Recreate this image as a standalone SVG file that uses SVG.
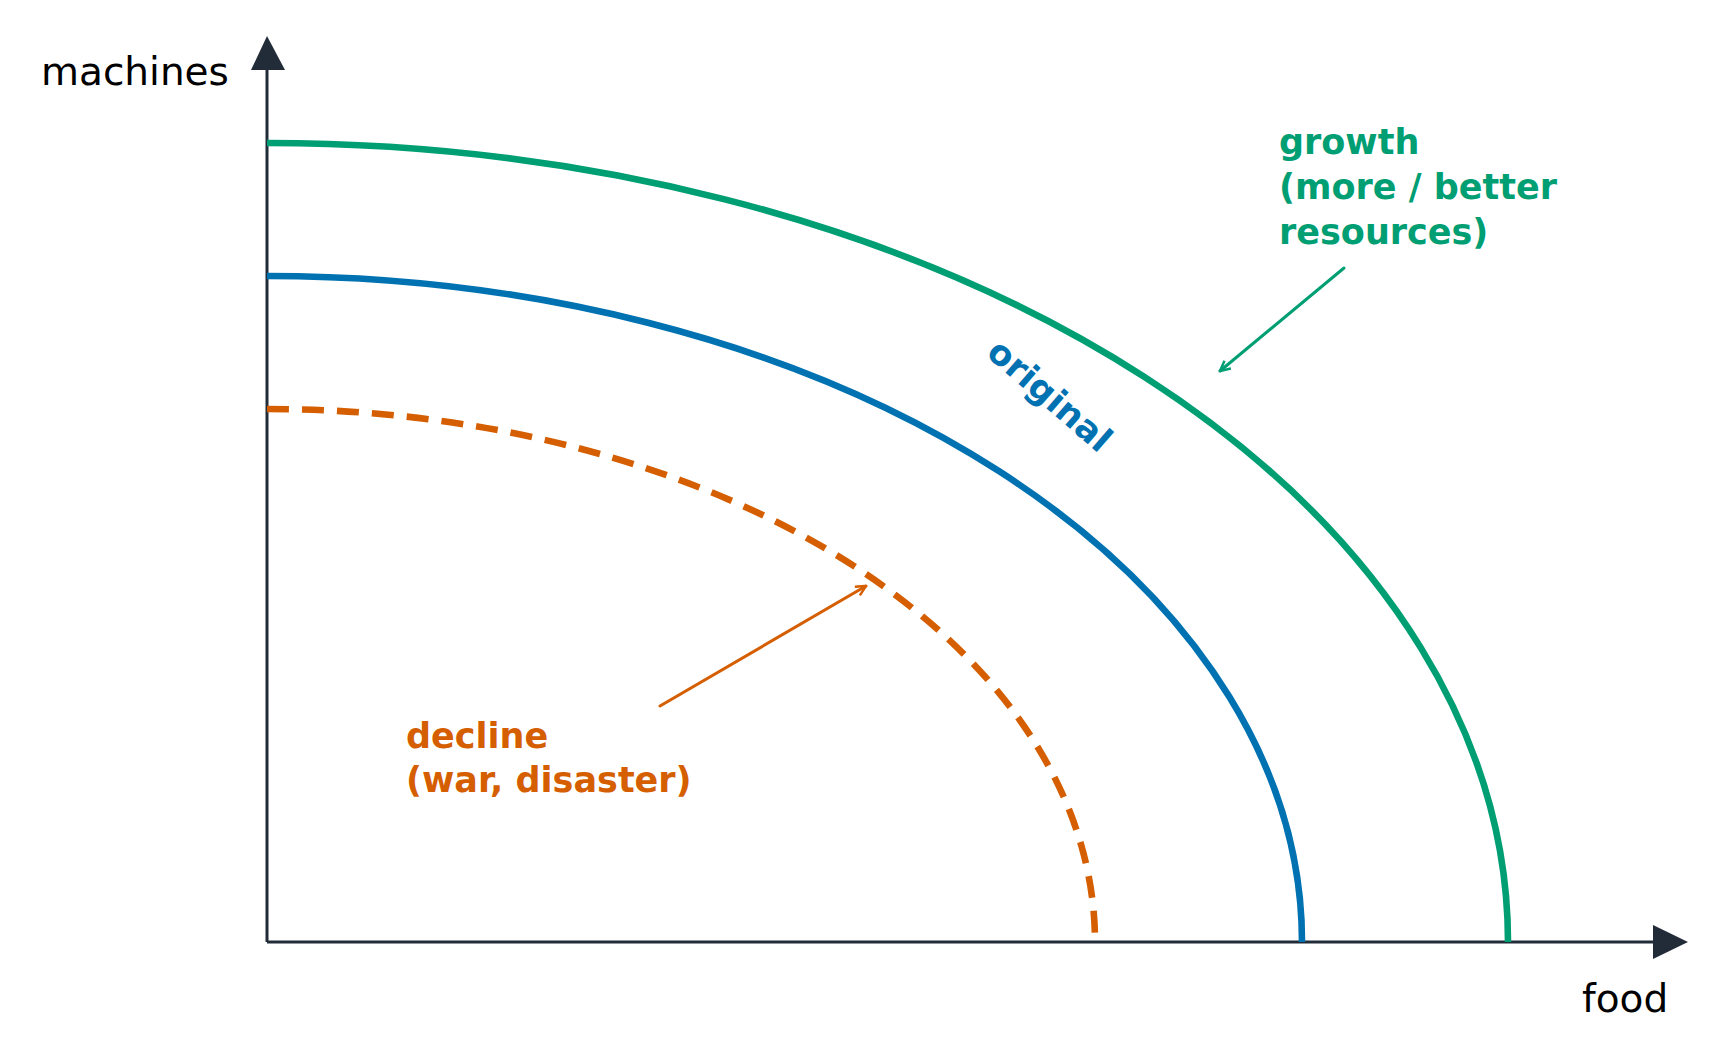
<svg xmlns="http://www.w3.org/2000/svg" width="1725" height="1062" viewBox="0 0 1725 1062">
<style>
.ax{stroke:#222b38;stroke-width:3;fill:none}
.c{fill:none;stroke-width:6.6}
.lbl{font-family:"DejaVu Sans",sans-serif;font-size:39px;fill:#000}
.b{font-family:"DejaVu Sans",sans-serif;font-weight:bold;font-size:35px}
</style>
<defs>
<marker id="ag" viewBox="0 0 12 12" refX="11" refY="6" markerWidth="12" markerHeight="12" markerUnits="userSpaceOnUse" orient="auto"><path d="M1 1 L11 6 L1 11" fill="none" stroke="#009E73" stroke-width="2.5"/></marker>
<marker id="ao" viewBox="0 0 12 12" refX="11" refY="6" markerWidth="12" markerHeight="12" markerUnits="userSpaceOnUse" orient="auto"><path d="M1 1 L11 6 L1 11" fill="none" stroke="#D55E00" stroke-width="2.5"/></marker>
</defs>
<rect width="1725" height="1062" fill="#fff"/>
<g id="axes">
<line class="ax" x1="267" y1="942" x2="267" y2="66"/>
<polygon points="267,36 251,70 285,70" fill="#222b38"/>
<line class="ax" x1="267" y1="942" x2="1656" y2="942"/>
<polygon points="1688,942 1653,925 1653,959" fill="#222b38"/>
<text class="lbl" x="41" y="85">machines</text>
<text class="lbl" x="1582" y="1012">food</text>
</g>
<g id="connectors">
<path id="growth-curve" class="c" stroke="#009E73" d="M267 143 A1241 799 0 0 1 1508 942"/>
<path id="original-curve" class="c" stroke="#0072B2" d="M267 276 A1035 666 0 0 1 1302 942"/>
<path id="decline-curve" class="c" stroke="#D55E00" stroke-dasharray="22 13" d="M267 409 A828 533 0 0 1 1095 942"/>
<line x1="1344" y1="268" x2="1220" y2="371" stroke="#009E73" stroke-width="3" stroke-linecap="round" marker-end="url(#ag)"/>
<line x1="660" y1="706" x2="866" y2="586" stroke="#D55E00" stroke-width="3" stroke-linecap="round" marker-end="url(#ao)"/>
</g>
<g id="original-label"><text class="b" fill="#0072B2" font-size="33" transform="translate(985,355) rotate(41)">original</text></g>
<g id="growth-label"><text class="b" fill="#009E73" x="1279" y="154">growth<tspan x="1279" y="199">(more / better</tspan><tspan x="1279" y="244">resources)</tspan></text></g>
<g id="decline-label"><text class="b" fill="#D55E00" x="406" y="748">decline<tspan x="406" y="792">(war, disaster)</tspan></text></g>
</svg>
